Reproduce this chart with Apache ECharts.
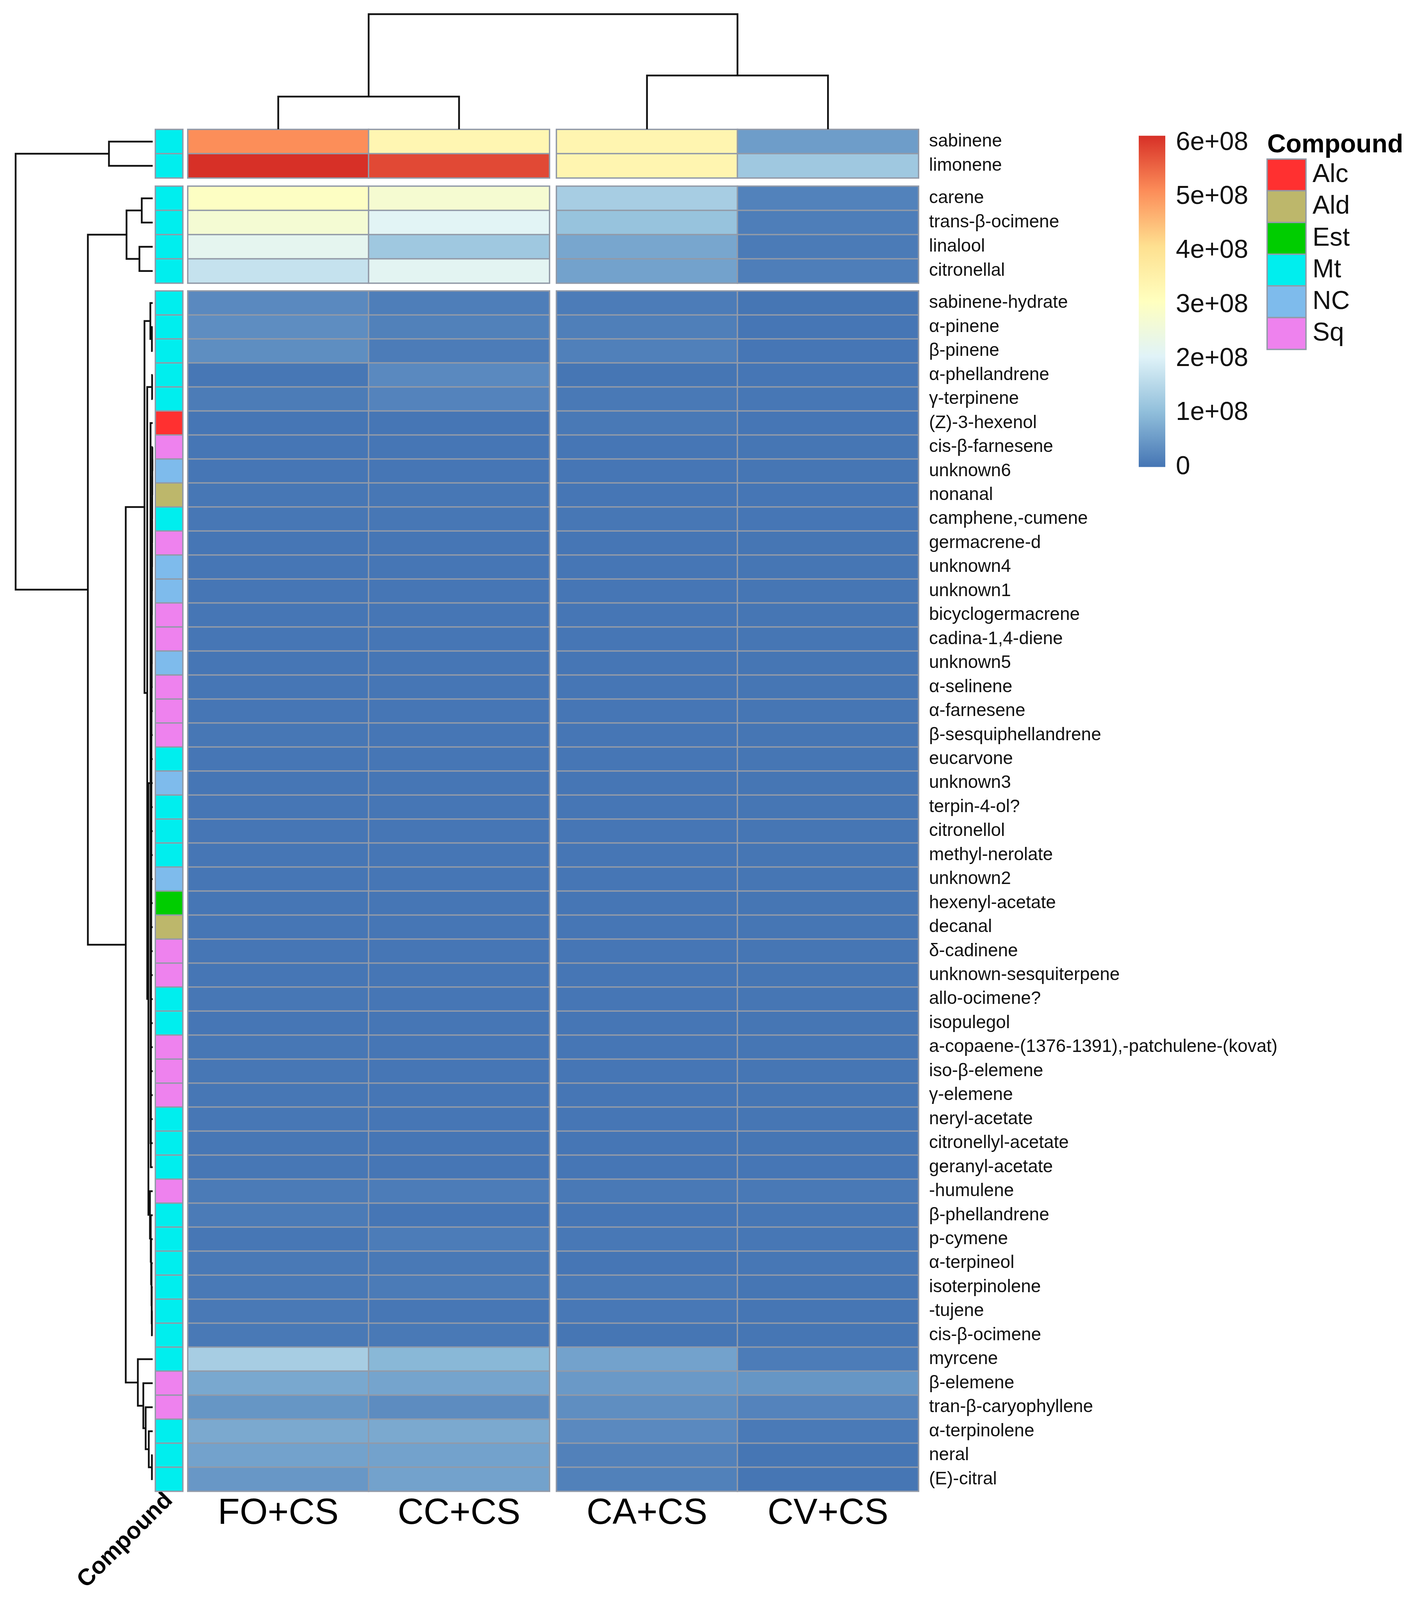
<!DOCTYPE html>
<html>
<head>
<meta charset="utf-8">
<title>Compound heatmap</title>
<style>
html, body { margin: 0; padding: 0; background: #fff; overflow: hidden; }
#main { width: 3626px; }
</style>
<script src="https://cdn.jsdelivr.net/npm/echarts@6/dist/echarts.min.js"></script>
</head>
<body>
<div id="main"></div>
<script>
// row order as in the picture
var compounds = ['sabinene', 'limonene',
  'carene', 'trans-β-ocimene', 'linalool', 'citronellal',
  'sabinene-hydrate', 'α-pinene', 'β-pinene', 'α-phellandrene', 'γ-terpinene', '(Z)-3-hexenol', 'cis-β-farnesene', 'unknown6', 'nonanal', 'camphene,-cumene',
  'germacrene-d', 'unknown4', 'unknown1', 'bicyclogermacrene', 'cadina-1,4-diene', 'unknown5', 'α-selinene', 'α-farnesene', 'β-sesquiphellandrene', 'eucarvone',
  'unknown3', 'terpin-4-ol?', 'citronellol', 'methyl-nerolate', 'unknown2', 'hexenyl-acetate', 'decanal', 'δ-cadinene', 'unknown-sesquiterpene', 'allo-ocimene?',
  'isopulegol', 'a-copaene-(1376-1391),-patchulene-(kovat)', 'iso-β-elemene', 'γ-elemene', 'neryl-acetate', 'citronellyl-acetate', 'geranyl-acetate', '-humulene', 'β-phellandrene', 'p-cymene',
  'α-terpineol', 'isoterpinolene', '-tujene', 'cis-β-ocimene', 'myrcene', 'β-elemene', 'tran-β-caryophyllene', 'α-terpinolene', 'neral', '(E)-citral'];
var compoundClass = ['Mt', 'Mt',
  'Mt', 'Mt', 'Mt', 'Mt',
  'Mt', 'Mt', 'Mt', 'Mt', 'Mt', 'Alc', 'Sq', 'NC', 'Ald', 'Mt',
  'Sq', 'NC', 'NC', 'Sq', 'Sq', 'NC', 'Sq', 'Sq', 'Sq', 'Mt',
  'NC', 'Mt', 'Mt', 'Mt', 'NC', 'Est', 'Ald', 'Sq', 'Sq', 'Mt',
  'Mt', 'Sq', 'Sq', 'Sq', 'Mt', 'Mt', 'Mt', 'Sq', 'Mt', 'Mt',
  'Mt', 'Mt', 'Mt', 'Mt', 'Mt', 'Sq', 'Sq', 'Mt', 'Mt', 'Mt'];

var treatments = ['FO+CS', 'CC+CS', 'CA+CS', 'CV+CS'];

// peak area, in units of 1e8
var foCS = [5.1, 6.13,
  3.0, 2.7, 2.2, 1.7,
  .28, .33, .34, .03, .09, .02, .02, .02, .03, .03,
  .02, .02, .02, .02, .02, .02, .02, .02, .03, .02,
  .02, .02, .02, .02, .02, .02, .02, .02, .02, .03,
  .02, .03, .03, .03, .03, .03, .03, .08, .08, .03,
  .05, .06, .05, .06, 1.3, .7, .45, .72, .62, .47];
var ccCS = [3.35, 5.85,
  2.75, 2.1, 1.2, 2.15,
  .12, .16, .1, .28, .2, .02, .02, .02, .03, .03,
  .02, .02, .02, .02, .02, .02, .02, .02, .02, .02,
  .02, .02, .02, .02, .02, .02, .02, .02, .02, .02,
  .02, .02, .02, .02, .02, .02, .02, .1, .02, .1,
  .05, .08, .03, .05, .92, .65, .32, .72, .62, .62];
var caCS = [3.4, 3.4,
  1.3, 1.1, .68, .62,
  .1, .14, .15, .01, .06, .06, .02, .02, .02, .03,
  .02, .02, .02, .02, .02, .02, .02, .02, .02, .02,
  .02, .02, .02, .02, .02, .02, .02, .02, .02, .02,
  .02, .02, .02, .02, .02, .02, .02, .06, .02, .04,
  .02, .05, .04, .01, .62, .5, .35, .28, .17, .16];
var cvCS = [.55, 1.2,
  .18, .12, .08, .12,
  .01, .02, .02, .02, .03, .02, .01, .01, .02, .02,
  .01, .01, .01, .01, .01, .01, .01, .01, .01, .01,
  .01, .01, .01, .01, .01, .01, .01, .01, .01, .01,
  .01, .01, .01, .01, .01, .01, .02, .05, .03, .03,
  .03, .01, .01, .01, .1, .45, .2, .07, .01, .01];
var seriesValues = [foCS, ccCS, caCS, cvCS];

var colorTicks = [0, 1, 2, 3, 4, 5, 6];
var colorMax = 6.13;
var rampColors = ['#4575B4', '#91BFDB', '#E0F3F8', '#FFFFBF', '#FEE090', '#FC8D59', '#D73027'];

var classNames = ['Alc', 'Ald', 'Est', 'Mt', 'NC', 'Sq'];
var classColors = ['#FF3030', '#BDB76B', '#00CD00', '#00EEEE', '#7EBBEC', '#EE82EE'];

// dendrograms, hclust style: -n is leaf n, +k is merge k, last is the height
var rowMerge = [
  [-1, -2, 112], [-3, -4, 28], [-5, -6, 34], [2, 3, 67],
  [-55, -56, 2], [-54, 5, 10], [-53, 6, 18], [-52, 7, 24], [-51, 8, 38],
  [-8, -9, 2], [-7, 10, 6], [-10, -11, 1.5],
  [-13, -14, .8], [13, -15, 1], [14, -16, 1.2], [15, -17, 1.4], [16, -18, 1.6], [17, -19, 1.8], [18, -20, 2], [19, -21, 2.2],
  [20, -22, 2.4], [21, -23, 2.6], [22, -24, 2.8], [23, -25, 3], [24, -26, 3.2], [25, -27, 3.3], [26, -28, 3.4], [27, -29, 3.5],
  [28, -30, 3.6], [29, -31, 3.7], [30, -32, 3.8], [31, -33, 3.9], [32, -34, 4], [33, -35, 4.1], [34, -36, 4.2], [35, -37, 4.3],
  [36, -38, 4.4], [37, -39, 4.5], [38, -40, 4.6], [39, -41, 4.7], [40, -42, 4.8], [41, -43, 4.9],
  [-12, 42, 5.5],
  [-49, -50, 2], [-48, 44, 2.5], [-47, 45, 3], [-46, 46, 4], [-45, 47, 5], [-44, 48, 7],
  [43, 49, 11], [12, 50, 14], [11, 51, 21], [52, 9, 69], [4, 53, 166], [1, 54, 351]];
var colMerge = [[-1, -2, 99], [-3, -4, 163], [1, 2, 349]];

// page layout, in reference pixels
var rowGroups = [{ top: 393, n: 2, h: 147 }, { top: 565, n: 4, h: 294 }, { top: 883, n: 50, h: 3642 }];
var colGroups = [{ left: 481, n: 2, w: 926 }, { left: 1425, n: 2, w: 927 }];
var annoLeft = 398, annoWidth = 70;
var borderColor = '#929aa8';
var fontName = '"Liberation Sans", Arial, sans-serif';
var pageW = 3626, pageH = 4855, rowDendroW = 391, colDendroH = 392;

// the browser may give less height than asked for, so squeeze the rows to fit it
var sy = Math.min(1, window.innerHeight / pageH);
document.getElementById('main').style.height = Math.floor(pageH * sy) + 'px';

var grids = [], xAxes = [], yAxes = [], seriesList = [];
var heatIdx = [], classIdx = [];

function addGrid(g, x, y) {
  g.top = g.top * sy;
  g.height = g.height * sy;
  grids.push(g);
  x.gridIndex = grids.length - 1;
  y.gridIndex = grids.length - 1;
  xAxes.push(x);
  yAxes.push(y);
  return grids.length - 1;
}

function hiddenCat(cats) {
  return {
    type: 'category', data: cats, inverse: false,
    axisLine: { show: false }, axisTick: { show: false }, axisLabel: { show: false },
    splitLine: { show: false }, splitArea: { show: false }
  };
}

function cellStyle() {
  return { borderColor: borderColor, borderWidth: 3.5 };
}

// main heatmap, one grid per row block and column block
var rowStart = 0;
rowGroups.forEach(function (rg, r) {
  var rowsHere = compounds.slice(rowStart, rowStart + rg.n);
  var colStart = 0;
  colGroups.forEach(function (cg, c) {
    var colsHere = treatments.slice(colStart, colStart + cg.n);
    var x = hiddenCat(colsHere), y = hiddenCat(rowsHere);
    y.inverse = true;
    if (c === colGroups.length - 1) {
      y.position = 'right';
      y.axisLabel = { show: true, interval: 0, margin: 27, fontSize: 46, color: '#111', fontFamily: fontName };
    }
    if (r === rowGroups.length - 1) {
      x.position = 'bottom';
      x.axisLabel = { show: true, interval: 0, margin: 12, fontSize: 92, color: '#000', fontFamily: fontName };
    }
    var gi = addGrid({ left: cg.left, top: rg.top, width: cg.w, height: rg.h }, x, y);
    var cells = [];
    for (var i = 0; i < rg.n; i++) {
      for (var j = 0; j < cg.n; j++) {
        cells.push([j, i, seriesValues[colStart + j][rowStart + i]]);
      }
    }
    heatIdx.push(seriesList.length);
    seriesList.push({
      type: 'heatmap', xAxisIndex: gi, yAxisIndex: gi, data: cells,
      itemStyle: cellStyle(), emphasis: { disabled: true }
    });
    colStart += cg.n;
  });

  // annotation column
  var ax = hiddenCat(['Compound']), ay = hiddenCat(compounds.slice(rowStart, rowStart + rg.n));
  ay.inverse = true;
  if (r === rowGroups.length - 1) {
    ax.axisLabel = { show: true, rotate: 45, interval: 0, margin: 14, fontSize: 60, fontWeight: 'bold', color: '#000', fontFamily: fontName };
  }
  var ag = addGrid({ left: annoLeft, top: rg.top, width: annoWidth, height: rg.h }, ax, ay);
  var annoCells = [];
  for (var k = 0; k < rg.n; k++) {
    annoCells.push([0, k, classNames.indexOf(compoundClass[rowStart + k])]);
  }
  classIdx.push(seriesList.length);
  seriesList.push({
    type: 'heatmap', xAxisIndex: ag, yAxisIndex: ag, data: annoCells,
    itemStyle: cellStyle(), emphasis: { disabled: true }
  });
  rowStart += rg.n;
});

// class legend swatches
var lx = hiddenCat(['Compound']), ly = hiddenCat(classNames);
ly.inverse = true;
ly.position = 'right';
ly.axisLabel = { show: true, interval: 0, margin: 17, fontSize: 66, color: '#111', fontFamily: fontName };
var lg = addGrid({ left: 3245, top: 483, width: 99, height: 577 }, lx, ly);
classIdx.push(seriesList.length);
seriesList.push({
  type: 'heatmap', xAxisIndex: lg, yAxisIndex: lg,
  data: classNames.map(function (n, i) { return [0, i, i]; }),
  itemStyle: cellStyle(), emphasis: { disabled: true }
});

// colour bar
var barStops = rampColors.map(function (col, i) {
  return { offset: i / (rampColors.length - 1), color: col };
});
var bg = addGrid({ left: 2916, top: 412, width: 68, height: 1005 }, hiddenCat(['scale']), {
  type: 'value', min: 0, max: colorMax, position: 'right',
  splitLine: { show: false }, axisLine: { show: false }, axisTick: { show: false },
  axisLabel: {
    show: true, margin: 27, fontSize: 66, color: '#111', fontFamily: fontName,
    customValues: colorTicks,
    formatter: function (v) { return v === 0 ? '0' : v + 'e+08'; }
  }
});
seriesList.push({
  type: 'bar', xAxisIndex: bg, yAxisIndex: bg, data: [colorMax], barWidth: '100%', silent: true,
  itemStyle: { color: new echarts.graphic.LinearGradient(0, 1, 0, 0, barStops) }
});

// walks an hclust style merge list, returns [hA, posA, hB, posB, h] for each merge
function dendroSegments(merge, leafPos) {
  var nodes = [], out = [];
  function look(ref) {
    return ref < 0 ? { h: 0, pos: leafPos[-ref - 1] } : nodes[ref - 1];
  }
  merge.forEach(function (m) {
    var a = look(m[0]), b = look(m[1]);
    out.push([a.h, a.pos, b.h, b.pos, m[2]]);
    nodes.push({ h: m[2], pos: (a.pos + b.pos) / 2 });
  });
  return out;
}

function dendroRender(horizontal) {
  return function (params, api) {
    var hA = api.value(0), pA = api.value(1), hB = api.value(2), pB = api.value(3), h = api.value(4);
    var raw = horizontal
      ? [[hA, pA], [h, pA], [h, pB], [hB, pB]]
      : [[pA, hA], [pA, h], [pB, h], [pB, hB]];
    return {
      type: 'polyline',
      shape: { points: raw.map(function (p) { return api.coord(p); }) },
      style: { stroke: '#111', lineWidth: 4.5, fill: null }
    };
  };
}

var rowLeafPos = [];
rowGroups.forEach(function (rg) {
  for (var i = 0; i < rg.n; i++) rowLeafPos.push(rg.top + (i + .5) * rg.h / rg.n);
});
var colLeafPos = [];
colGroups.forEach(function (cg) {
  for (var i = 0; i < cg.n; i++) colLeafPos.push(cg.left + (i + .5) * cg.w / cg.n);
});

function hiddenVal(min, max, inverse) {
  return { type: 'value', min: min, max: max, inverse: inverse, show: false, splitLine: { show: false } };
}

var rd = addGrid({ left: 0, top: 0, width: rowDendroW, height: pageH }, hiddenVal(0, rowDendroW, true), hiddenVal(0, pageH, true));
seriesList.push({
  type: 'custom', xAxisIndex: rd, yAxisIndex: rd, silent: true, clip: false,
  renderItem: dendroRender(true), data: dendroSegments(rowMerge, rowLeafPos)
});
var cd = addGrid({ left: 0, top: 0, width: pageW, height: colDendroH }, hiddenVal(0, pageW, false), hiddenVal(0, colDendroH, false));
seriesList.push({
  type: 'custom', xAxisIndex: cd, yAxisIndex: cd, silent: true, clip: false,
  renderItem: dendroRender(false), data: dendroSegments(colMerge, colLeafPos)
});

var myChart = echarts.init(document.getElementById('main'), null, { renderer: 'canvas' });
var option = {
  animation: false,
  backgroundColor: '#fff',
  title: {
    text: 'Compound', left: 3245, top: 402 * sy,
    padding: 0,
    textStyle: { fontSize: 66, fontWeight: 'bold', color: '#000', fontFamily: fontName }
  },
  grid: grids,
  xAxis: xAxes,
  yAxis: yAxes,
  visualMap: [{
    type: 'continuous', show: false, min: 0, max: colorMax, dimension: 2,
    seriesIndex: heatIdx, inRange: { color: rampColors }
  }, {
    type: 'piecewise', show: false, dimension: 2, seriesIndex: classIdx,
    pieces: classColors.map(function (col, i) { return { value: i, color: col }; })
  }],
  series: seriesList
};
myChart.setOption(option);
</script>
</body>
</html>
